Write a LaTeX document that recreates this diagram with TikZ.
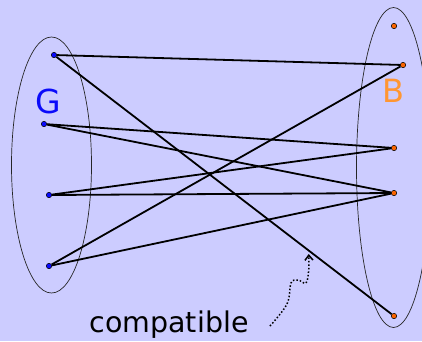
\documentclass[tikz,border=0pt]{standalone}
\usepackage{fontspec}
\setsansfont{DejaVu Sans}
\usetikzlibrary{arrows.meta,positioning,calc}
\definecolor{bgC}{RGB}{204,204,255}
\definecolor{girlC}{RGB}{10,10,250}
\definecolor{boyC}{RGB}{250,100,0}
\definecolor{boyL}{RGB}{255,150,50}
\tikzset{
  gdot/.style={circle, draw=black, line width=0.5pt, fill=girlC, inner sep=0pt, minimum size=5.4pt},
  bdot/.style={circle, draw=black, line width=0.5pt, fill=boyC, inner sep=0pt, minimum size=5.4pt},
  match/.style={black, line width=1.8pt},
  setline/.style={draw=black!85, line width=0.7pt}
}

\begin{document}
\begin{tikzpicture}[x=1pt, y=-1pt]
% Background
\clip (0,0) rectangle (422,341);
\fill[bgC] (0,0) rectangle (422,341);

% The two sets
\draw[setline] (51.5,165) ellipse [x radius=40pt, y radius=128pt];
\draw[setline] (393.5,167.5) ellipse [x radius=37pt, y radius=160pt];

% Left vertices
\foreach \i/\x/\y in {1/54/55, 2/44/124, 3/49/195, 4/49/266} {
  \node[gdot] (g\i) at (\x,\y) {};
}
% Right vertices
\foreach \i/\x/\y in {1/394/26, 2/403/65, 3/394/148, 4/394/193, 5/394/316} {
  \node[bdot] (b\i) at (\x,\y) {};
}

% Edges
\foreach \a/\b in {1/2, 1/5, 2/3, 2/4, 3/3, 3/4, 4/2, 4/4} {
  \draw[match] (g\a) -- (b\b);
}

% Labels
\node[girlC, font=\sffamily\fontsize{33}{33}\selectfont] (glab) at (48,101) {G};
\node[boyL, font=\sffamily\fontsize{32}{32}\selectfont] (blab) at (393,91) {B};
\node[black, anchor=base, font=\sffamily\fontsize{28.5}{28.5}\selectfont] (comp) at (169,332) {compatible};

% Pointer
\coordinate (tail) at (270,326);
\coordinate (head) at (308.7,254);
\draw[dotted, line width=1.5pt, -{Straight Barb[length=5pt, width=8pt]}]
  plot[smooth, tension=0.6] coordinates {(tail) (287,304) (291,283) (298,280) (306,283) (308.7,270) (head)};
\end{tikzpicture}
\end{document}
